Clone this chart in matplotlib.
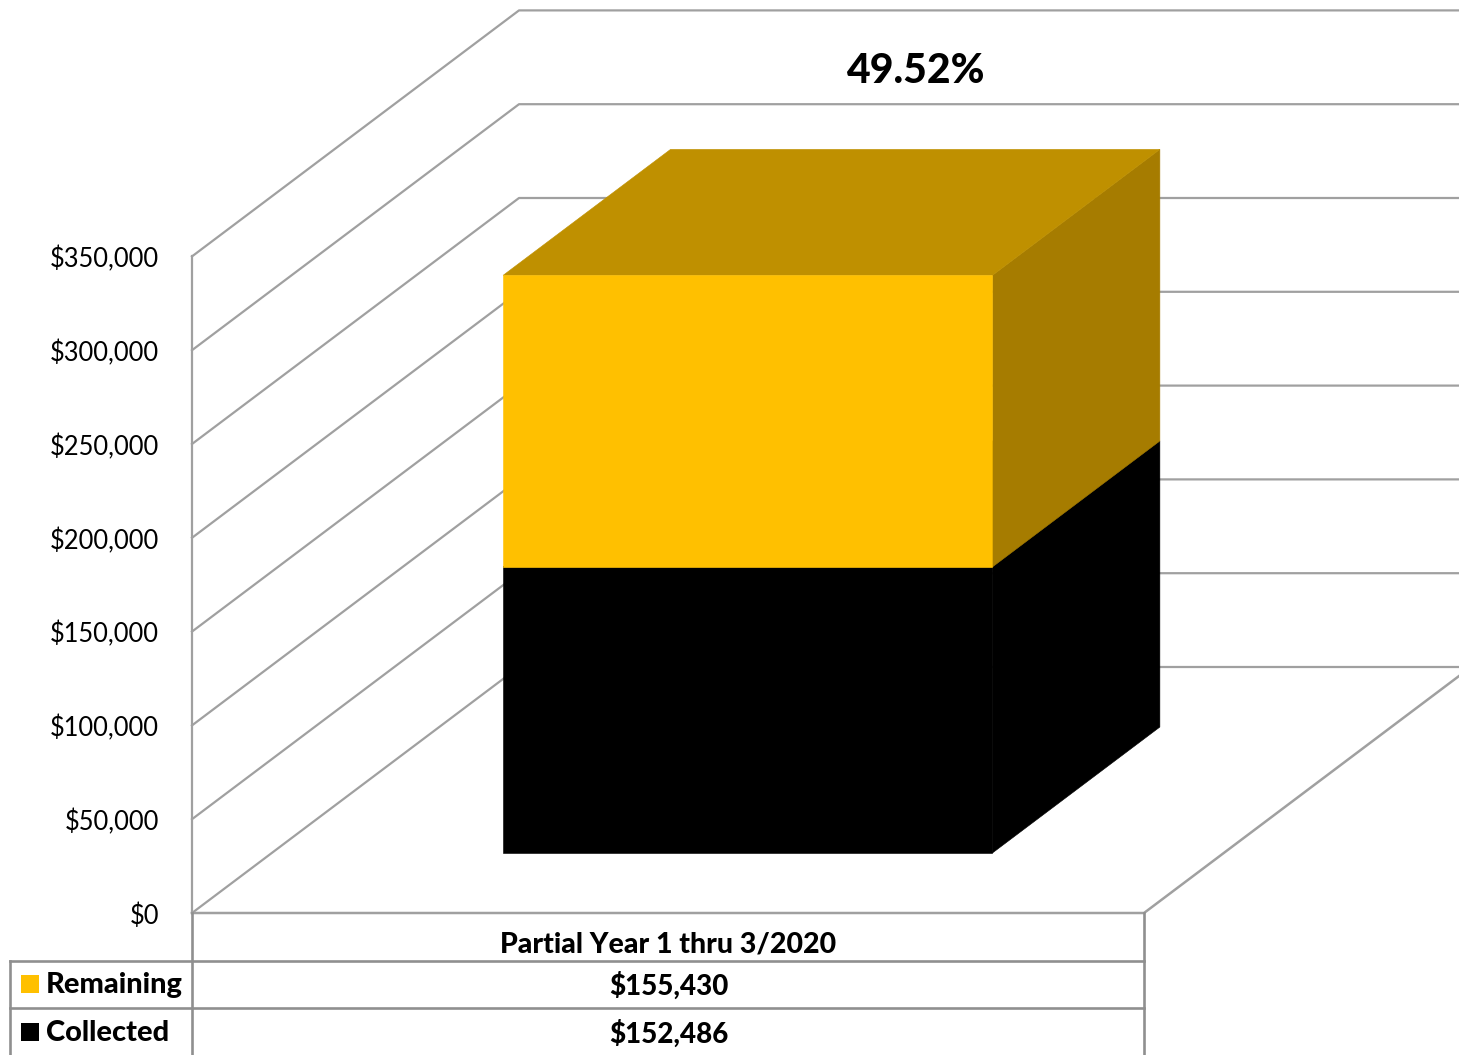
import matplotlib
matplotlib.use("Agg")
import matplotlib.pyplot as plt
from matplotlib.patches import Polygon, Rectangle

category = "Partial Year 1 thru 3/2020"
series_names = ["Remaining", "Collected"]
collected = 152486
remaining = 155430
ticks = [0, 50000, 100000, 150000, 200000, 250000, 300000, 350000]
percent_label = "49.52%"

GOLD = "#FFC000"
GOLD_TOP = "#BF9000"
GOLD_SIDE = "#A67C00"
GRID = "#A0A0A0"
TABLE = "#8F8F8F"

plt.rcParams["font.family"] = ["Lato", "DejaVu Sans"]

# fake 3d layout, in pixels of the final image
X0, X1 = 192, 1144
Y0 = 913
PX_PER_UNIT = 93.8 / 50000
DEPTH_X, DEPTH_Y = 327, -246


def project(x, depth, value):
    # x and depth are 0..1 across the floor
    px = X0 + x * (X1 - X0) + depth * DEPTH_X
    py = Y0 + depth * DEPTH_Y - value * PX_PER_UNIT
    return px, py


def face(ax, points, color):
    # thin edge in the same colour hides the seams between faces
    ax.add_patch(Polygon(points, facecolor=color, edgecolor=color, lw=0.4, zorder=3))


def box(ax, x0, x1, d0, d1, v0, v1, front, side, top):
    face(ax, [project(x1, d0, v0), project(x1, d1, v0), project(x1, d1, v1), project(x1, d0, v1)], side)
    face(ax, [project(x0, d0, v1), project(x1, d0, v1), project(x1, d1, v1), project(x0, d1, v1)], top)
    face(ax, [project(x0, d0, v0), project(x1, d0, v0), project(x1, d0, v1), project(x0, d0, v1)], front)


fig = plt.figure(figsize=(14.59, 10.55), dpi=100)
ax = fig.add_axes([0, 0, 1, 1])
ax.set_xlim(0, 1459)
ax.set_ylim(1055, 0)
ax.axis("off")

# walls and gridlines
for t in ticks:
    left = project(0, 0, t)
    back = project(0, 1, t)
    right = project(2, 1, t)
    ax.plot([left[0], back[0], right[0]], [left[1], back[1], right[1]], color=GRID, lw=1.6, zorder=1)
    ax.text(159, left[1] + 3, f"${t:,}", ha="right", va="center", fontsize=18.4, color="black")

ax.plot(*zip(project(0, 0, ticks[0]), project(0, 0, ticks[-1])), color=GRID, lw=1.6, zorder=1)
ax.plot(*zip(project(0, 0, 0), project(1, 0, 0), project(1, 1, 0)), color=GRID, lw=1.8, zorder=1)

# stacked box
bar_l, bar_r = 0.243, 0.757
depth_f, depth_b = 0.244, 0.756
box(ax, bar_l, bar_r, depth_f, depth_b, 0, collected, "black", "black", "black")
box(ax, bar_l, bar_r, depth_f, depth_b, collected, collected + remaining, GOLD, GOLD_SIDE, GOLD_TOP)

ax.text(915, 71, percent_label, ha="center", va="center", fontsize=29.5, fontweight=900, color="black")

# data table below the chart
ax.plot([X0, X0], [Y0, 1055], color=TABLE, lw=1.9)
ax.plot([X1, X1], [Y0, 1055], color=TABLE, lw=1.9)
ax.plot([10, 10], [961, 1055], color=TABLE, lw=1.9)
ax.plot([10, X1], [961, 961], color=TABLE, lw=1.9)
ax.plot([10, X1], [1008, 1008], color=TABLE, lw=1.9)

ax.text(668.5, 944, category, ha="center", va="center", fontsize=20.5, fontweight=900, color="black")
rows = [(985, series_names[0], remaining, GOLD), (1033, series_names[1], collected, "black")]
for y, name, val, col in rows:
    ax.add_patch(Rectangle((21, y - 10), 18, 18, facecolor=col, edgecolor="none"))
    ax.text(46, y, name, ha="left", va="center", fontsize=20.9, fontweight=900, color="black")
    ax.text(668.5, y + 1, f"${val:,}", ha="center", va="center", fontsize=20, fontweight=900, color="black")

fig.savefig("out.png", dpi=100)
